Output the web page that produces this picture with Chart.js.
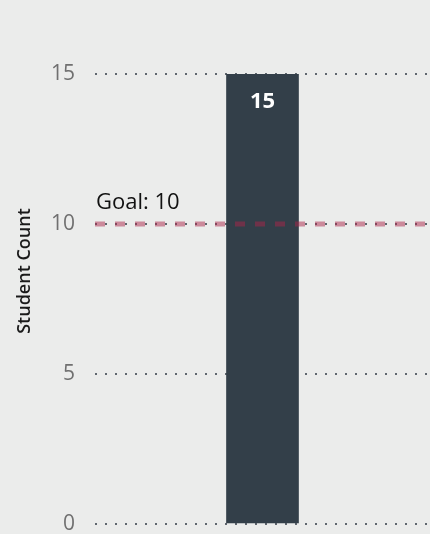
<!DOCTYPE html>
<html>
<head>
<meta charset="utf-8">
<script src="https://cdn.jsdelivr.net/npm/chart.js@4"></script>
<style>
  html, body { margin: 0; padding: 0; background: #ebeceb; }
  #wrap { width: 430px; height: 534px; }
</style>
</head>
<body>
<div id="wrap"><canvas id="goalChart"></canvas></div>
<script>
const categories = ["Students"];
const studentCounts = [15];
const yTicks = [0, 5, 10, 15];
const goalValue = 10;
const goalLabel = "Goal: 10";
const yTitle = "Student Count";

// dashed goal line + its label, drawn over the bar
const goalLinePlugin = {
    id: "goalLine",
    afterDatasetsDraw(chart) {
        const { ctx, chartArea, scales } = chart;
        const y = scales.y.getPixelForValue(goalValue);
        ctx.save();
        ctx.strokeStyle = "rgba(172, 38, 74, 0.5)";
        ctx.lineWidth = 5;
        ctx.setLineDash([10, 10]);
        ctx.beginPath();
        ctx.moveTo(chartArea.left, y);
        ctx.lineTo(chartArea.right, y);
        ctx.stroke();
        ctx.setLineDash([]);
        ctx.fillStyle = "#111";
        ctx.font = "22px 'Open Sans'";
        ctx.textAlign = "left";
        ctx.textBaseline = "alphabetic";
        ctx.fillText(goalLabel, chartArea.left + 1, y - 15);
        ctx.restore();
    }
};

// value label inside the top of the bar
const valueLabelPlugin = {
    id: "valueLabel",
    afterDatasetsDraw(chart) {
        const { ctx } = chart;
        const meta = chart.getDatasetMeta(0);
        ctx.save();
        ctx.fillStyle = "#ffffff";
        ctx.font = "bold 22px 'Open Sans'";
        ctx.textAlign = "center";
        ctx.textBaseline = "middle";
        meta.data.forEach((bar, i) => {
            ctx.fillText(String(studentCounts[i]), bar.x, bar.y + 28);
        });
        ctx.restore();
    }
};

// y axis title, placed by hand
const yTitlePlugin = {
    id: "yTitle",
    afterDraw(chart) {
        const { ctx } = chart;
        ctx.save();
        ctx.translate(25, 271);
        ctx.rotate(-Math.PI / 2);
        ctx.fillStyle = "#1a1a1a";
        ctx.font = "600 18px 'Open Sans'";
        ctx.textAlign = "center";
        ctx.textBaseline = "middle";
        ctx.fillText(yTitle, 0, 0);
        ctx.restore();
    }
};

const ctx = document.getElementById("goalChart").getContext("2d");
new Chart(ctx, {
    type: "bar",
    data: {
        labels: categories,
        datasets: [{
            label: yTitle,
            data: studentCounts,
            backgroundColor: "#333f49",
            barThickness: 72
        }]
    },
    options: {
        responsive: true,
        maintainAspectRatio: false,
        animation: false,
        layout: { padding: { top: 74, bottom: 10, left: 0, right: 0 } },
        plugins: {
            legend: { display: false },
            tooltip: { enabled: false }
        },
        scales: {
            x: { display: false },
            y: {
                min: 0,
                max: 15,
                afterBuildTicks: (scale) => { scale.ticks = yTicks.map(v => ({ value: v })); },
                afterFit: (scale) => {
                    scale.width = 95;
                    scale.paddingTop = 0;
                    scale.paddingBottom = 0;
                },
                border: { display: false, dash: [2, 8] },
                grid: {
                    color: "#5f666e",
                    lineWidth: 2,
                    drawTicks: false
                },
                ticks: {
                    padding: 20,
                    color: "#707070",
                    font: { family: "'Open Sans'", size: 21 }
                }
            }
        }
    },
    plugins: [goalLinePlugin, valueLabelPlugin, yTitlePlugin]
});
</script>
</body>
</html>
